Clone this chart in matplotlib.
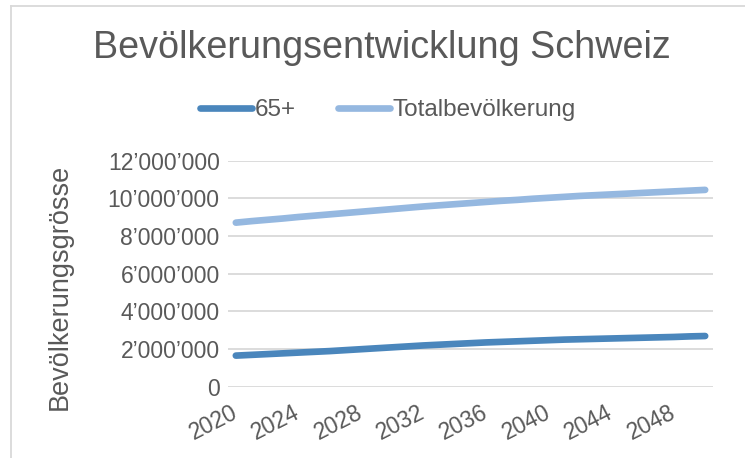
import matplotlib
matplotlib.use("Agg")
import matplotlib.pyplot as plt
from matplotlib.lines import Line2D
from matplotlib.ticker import FuncFormatter, MultipleLocator

plt.rcParams['font.family'] = ['Liberation Sans', 'DejaVu Sans']

years = list(range(2020, 2051))
senior_65plus = [1.64, 1.68, 1.72, 1.76, 1.80, 1.84, 1.88, 1.93, 1.98, 2.03,
                 2.08, 2.13, 2.18, 2.22, 2.26, 2.30, 2.34, 2.37, 2.40, 2.43,
                 2.46, 2.49, 2.51, 2.53, 2.55, 2.57, 2.59, 2.61, 2.63, 2.66, 2.68]
total_population = [8.70, 8.78, 8.85, 8.92, 9.00, 9.07, 9.14, 9.21, 9.28, 9.35,
                    9.42, 9.49, 9.56, 9.62, 9.68, 9.74, 9.80, 9.86, 9.91, 9.97,
                    10.02, 10.07, 10.12, 10.16, 10.20, 10.24, 10.28, 10.32, 10.36, 10.40, 10.44]
senior_65plus = [v * 1e6 for v in senior_65plus]
total_population = [v * 1e6 for v in total_population]
tick_years = [2020, 2024, 2028, 2032, 2036, 2040, 2044, 2048]

TXT = '#595959'
GRID = '#D9D9D9'
C65 = '#4A86BC'
CTOT = '#95B8E0'

W, H = 745, 458
fig = plt.figure(figsize=(W / 100, H / 100), dpi=100)
ax = fig.add_axes([228 / W, 1 - 386.5 / H, (713 - 228) / W, (386.5 - 160.5) / H])

x = list(range(len(years)))
ax.plot(x, senior_65plus, color=C65, lw=4.8, solid_capstyle='round', label='65+')
ax.plot(x, total_population, color=CTOT, lw=4.8, solid_capstyle='round', label='Totalbevölkerung')

ax.set_xlim(-0.5, len(years) - 0.5)
ax.set_ylim(0, 12e6)
ax.yaxis.set_major_locator(MultipleLocator(2e6))
ax.yaxis.set_major_formatter(FuncFormatter(lambda v, p: f"{int(round(v)):,}".replace(',', '\u2019')))
ax.grid(axis='y', color=GRID, lw=1.3)
ax.set_axisbelow(True)
for s in ax.spines.values():
    s.set_visible(False)

ax.set_xticks([years.index(t) for t in tick_years])
ax.set_xticklabels([str(t) for t in tick_years], rotation=27, ha='right', va='center',
                   rotation_mode='anchor')
ax.tick_params(axis='x', length=0, pad=18, labelsize=16.5, labelcolor=TXT)
ax.tick_params(axis='y', length=0, pad=6, labelsize=16.5, labelcolor=TXT)

ax.set_ylabel('Bevölkerungsgrösse', fontsize=19.5, color=TXT)
ax.yaxis.set_label_coords((73 - 228) / (713 - 228), 0.5 - (287 - 273.5) / 226)

fig.text(382 / W, 1 - 48 / H, 'Bevölkerungsentwicklung Schweiz', fontsize=27.2, color=TXT,
         ha='center', va='center')

leg = fig.legend(loc='center', bbox_to_anchor=(388 / W, 1 - 110 / H), ncol=2, frameon=False,
                 fontsize=17.5, handlelength=2.15, columnspacing=1.7, handletextpad=0.12)
for t in leg.get_texts():
    t.set_color(TXT)

fig.add_artist(Line2D([11 / W, 1], [1 - 6 / H, 1 - 6 / H], color=GRID, lw=1.3))
fig.add_artist(Line2D([11 / W, 11 / W], [1 - 6 / H, 0], color=GRID, lw=1.3))

fig.savefig('out.png', dpi=100)
